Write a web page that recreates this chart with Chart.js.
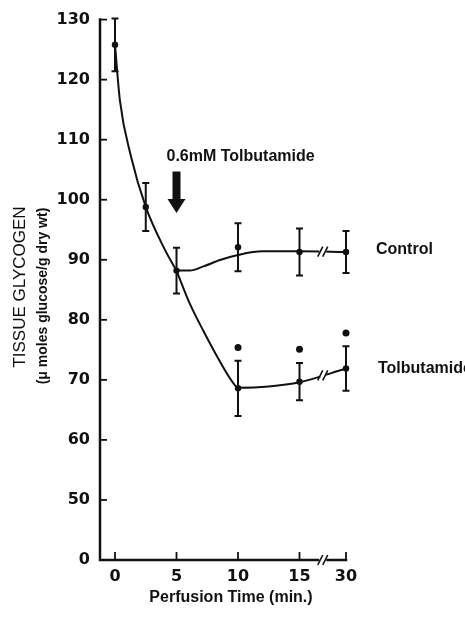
<!DOCTYPE html>
<html>
<head>
<meta charset="utf-8">
<title>Tissue glycogen during perfusion</title>
<script src="https://cdn.jsdelivr.net/npm/chart.js@4.4.0/dist/chart.umd.min.js"></script>
<style>
  html, body { margin: 0; padding: 0; background: #fff; }
  #wrap { width: 465px; height: 622px; }
</style>
</head>
<body>
<div id="wrap"><canvas id="glycogenChart" width="465" height="622"></canvas></div>
<script>
// --- data (perfusion time in min, glycogen in umol glucose / g dry wt) ---
const tickTimes = [0, 5, 10, 15, 30];
const yTickValues = [40, 50, 60, 70, 80, 90, 100, 110, 120, 130];
const yTickLabels = ['0', '50', '60', '70', '80', '90', '100', '110', '120', '130'];

const controlTimes = [0, 2.5, 5, 10, 15, 30];
const controlMeans = [125.8, 98.8, 88.2, 92.1, 91.3, 91.3];
const controlErr = [4.4, 4.0, 3.8, 4.0, 3.9, 3.5];

const tolbTimes = [10, 15, 30];
const tolbMeans = [68.6, 69.7, 71.9];
const tolbErr = [4.6, 3.1, 3.7];
const tolbStars = [75.4, 75.1, 77.8];

// hand fitted curves
const commonCurveT = [0, 0.4, 1.3, 2.5, 4, 5];
const commonCurveV = [125.8, 116.5, 107.2, 98.8, 91.9, 88.2];
const controlCurveT = [5, 6.1, 7.2, 8.6, 10, 12, 15, 30];
const controlCurveV = [88.2, 88.2, 88.9, 90, 90.8, 91.4, 91.4, 91.3];
const tolbCurveT = [5, 6.1, 7.2, 8.6, 9.5, 10, 12.5, 15, 30];
const tolbCurveV = [88.2, 82.6, 78.1, 72.8, 69.8, 68.7, 68.9, 69.6, 71.9];

// drug added at 5 min
const arrowTime = 5;
const arrowFrom = 104.7;
const arrowTo = 97.8;

// the time axis is broken between 15 and 30 min
const BREAK_FROM = 15;
const BREAK_SQUEEZE = 0.252;
const axisPos = t => t <= BREAK_FROM ? t : BREAK_FROM + (t - BREAK_FROM) * BREAK_SQUEEZE;

const toPoints = (ts, vs) => ts.map((t, i) => ({ x: axisPos(t), y: vs[i] }));

const INK = '#111';

function curve(ts, vs) {
    return {
        data: toPoints(ts, vs),
        borderColor: INK,
        borderWidth: 2,
        pointRadius: 0,
        cubicInterpolationMode: 'monotone',
        fill: false,
        clip: false
    };
}

function dots(ts, vs, r) {
    return {
        data: toPoints(ts, vs),
        showLine: false,
        pointRadius: r,
        pointBackgroundColor: INK,
        pointBorderColor: INK,
        pointBorderWidth: 0,
        clip: false
    };
}

// axes, error bars, breaks and labels drawn the old-fashioned way
const paperPlugin = {
    id: 'paper',
    beforeDraw(chart) {
        const ctx = chart.ctx;
        ctx.save();
        ctx.fillStyle = '#fff';
        ctx.fillRect(0, 0, chart.width, chart.height);
        ctx.restore();
    },
    beforeDatasetsDraw(chart) {
        const { ctx, chartArea: a, scales: { x, y } } = chart;
        ctx.save();
        ctx.strokeStyle = INK;
        ctx.lineWidth = 2.5;
        ctx.lineCap = 'square';
        ctx.beginPath();
        ctx.moveTo(a.left, a.top);
        ctx.lineTo(a.left, a.bottom);
        ctx.lineTo(a.right, a.bottom);
        ctx.stroke();

        ctx.lineWidth = 1.8;
        ctx.lineCap = 'butt';
        yTickValues.forEach(v => {
            if (v === y.min) return;
            const py = y.getPixelForValue(v);
            ctx.beginPath();
            ctx.moveTo(a.left, py);
            ctx.lineTo(a.left + 7, py);
            ctx.stroke();
        });
        tickTimes.forEach(t => {
            const px = x.getPixelForValue(axisPos(t));
            ctx.beginPath();
            ctx.moveTo(px, a.bottom);
            ctx.lineTo(px, a.bottom - 8);
            ctx.stroke();
        });
        ctx.restore();
    },
    afterDatasetsDraw(chart) {
        const { ctx, chartArea: a, scales: { x, y } } = chart;
        ctx.save();
        ctx.strokeStyle = INK;
        ctx.fillStyle = INK;

        // error bars
        const bars = (ts, ms, es) => ts.forEach((t, i) => {
            const px = x.getPixelForValue(axisPos(t));
            const top = y.getPixelForValue(ms[i] + es[i]);
            const bot = y.getPixelForValue(ms[i] - es[i]);
            ctx.lineWidth = 2;
            ctx.beginPath();
            ctx.moveTo(px, top);
            ctx.lineTo(px, bot);
            ctx.moveTo(px - 3.5, top);
            ctx.lineTo(px + 3.5, top);
            ctx.moveTo(px - 3.5, bot);
            ctx.lineTo(px + 3.5, bot);
            ctx.stroke();
        });
        bars(controlTimes, controlMeans, controlErr);
        bars(tolbTimes, tolbMeans, tolbErr);

        // "//" break marks on the axis and both curves
        const bx = x.getPixelForValue((axisPos(BREAK_FROM) + axisPos(30)) / 2);
        const lastC = controlCurveV.length - 1;
        const lastT = tolbCurveV.length - 1;
        const breakYs = [
            a.bottom,
            y.getPixelForValue((controlCurveV[lastC - 1] + controlCurveV[lastC]) / 2),
            y.getPixelForValue((tolbCurveV[lastT - 1] + tolbCurveV[lastT]) / 2)
        ];
        breakYs.forEach(by => {
            ctx.fillStyle = '#fff';
            ctx.fillRect(bx - 3.5, by - 2, 7, 4);
            ctx.lineWidth = 1.6;
            ctx.beginPath();
            [-2.5, 2.5].forEach(off => {
                ctx.moveTo(bx + off - 2.5, by + 5);
                ctx.lineTo(bx + off + 2.5, by - 5);
            });
            ctx.stroke();
        });
        ctx.fillStyle = INK;

        // arrow marking drug addition
        const ax = x.getPixelForValue(arrowTime);
        const aTop = y.getPixelForValue(arrowFrom);
        const aTip = y.getPixelForValue(arrowTo);
        const headLen = 14;
        ctx.fillRect(ax - 4, aTop, 8, aTip - aTop - headLen + 1);
        ctx.beginPath();
        ctx.moveTo(ax - 9, aTip - headLen);
        ctx.lineTo(ax + 9, aTip - headLen);
        ctx.lineTo(ax, aTip);
        ctx.closePath();
        ctx.fill();

        ctx.font = 'bold 16px "Liberation Sans"';
        ctx.textAlign = 'left';
        ctx.textBaseline = 'middle';
        ctx.fillText('0.6mM Tolbutamide', ax - 10, aTop - 15);

        // series names at the right end of each curve
        const endX = x.getPixelForValue(axisPos(30)) + 30;
        ctx.fillText('Control', endX, y.getPixelForValue(controlMeans[controlMeans.length - 1]) - 2);
        ctx.fillText('Tolbutamide', endX + 2, y.getPixelForValue(tolbMeans[tolbMeans.length - 1]));

        // axis titles
        ctx.textAlign = 'center';
        ctx.font = 'bold 16px "Liberation Sans"';
        ctx.fillText('Perfusion Time (min.)', 231, 598);

        ctx.translate(20, 287);
        ctx.rotate(-Math.PI / 2);
        ctx.font = '17px "Liberation Sans"';
        ctx.fillText('TISSUE GLYCOGEN', 0, 0);
        ctx.font = 'bold 14px "Liberation Sans"';
        ctx.fillText('(\u03bc moles glucose/g dry wt)', -9, 23);
        ctx.restore();
    }
};

new Chart(document.getElementById('glycogenChart'), {
    type: 'line',
    data: {
        datasets: [
            curve(commonCurveT, commonCurveV),
            curve(controlCurveT, controlCurveV),
            curve(tolbCurveT, tolbCurveV),
            dots(controlTimes, controlMeans, 3.2),
            dots(tolbTimes, tolbMeans, 3.2),
            dots(tolbTimes, tolbStars, 3.5)
        ]
    },
    options: {
        responsive: false,
        animation: false,
        devicePixelRatio: 1,
        layout: { padding: { left: 0, top: 15, right: 119, bottom: 0 } },
        plugins: {
            legend: { display: false },
            tooltip: { enabled: false }
        },
        scales: {
            x: {
                type: 'linear',
                min: -1.22,
                max: axisPos(30),
                grid: { display: false, drawTicks: false },
                border: { display: false },
                afterBuildTicks: s => { s.ticks = tickTimes.map(t => ({ value: axisPos(t) })); },
                afterFit: s => { s.height = 62; },
                ticks: {
                    autoSkip: false,
                    maxRotation: 0,
                    padding: 7,
                    color: INK,
                    font: { family: 'DejaVu Sans', size: 16, weight: 'bold' },
                    callback: (v, i) => String(tickTimes[i])
                }
            },
            y: {
                type: 'linear',
                min: 40,
                max: 130,
                grid: { display: false, drawTicks: false },
                border: { display: false },
                afterBuildTicks: s => { s.ticks = yTickValues.map(v => ({ value: v })); },
                afterFit: s => { s.width = 100; },
                ticks: {
                    padding: 10,
                    color: INK,
                    font: { family: 'DejaVu Sans', size: 16, weight: 'bold' },
                    callback: (v, i) => yTickLabels[i]
                }
            }
        }
    },
    plugins: [paperPlugin]
});
</script>
</body>
</html>
